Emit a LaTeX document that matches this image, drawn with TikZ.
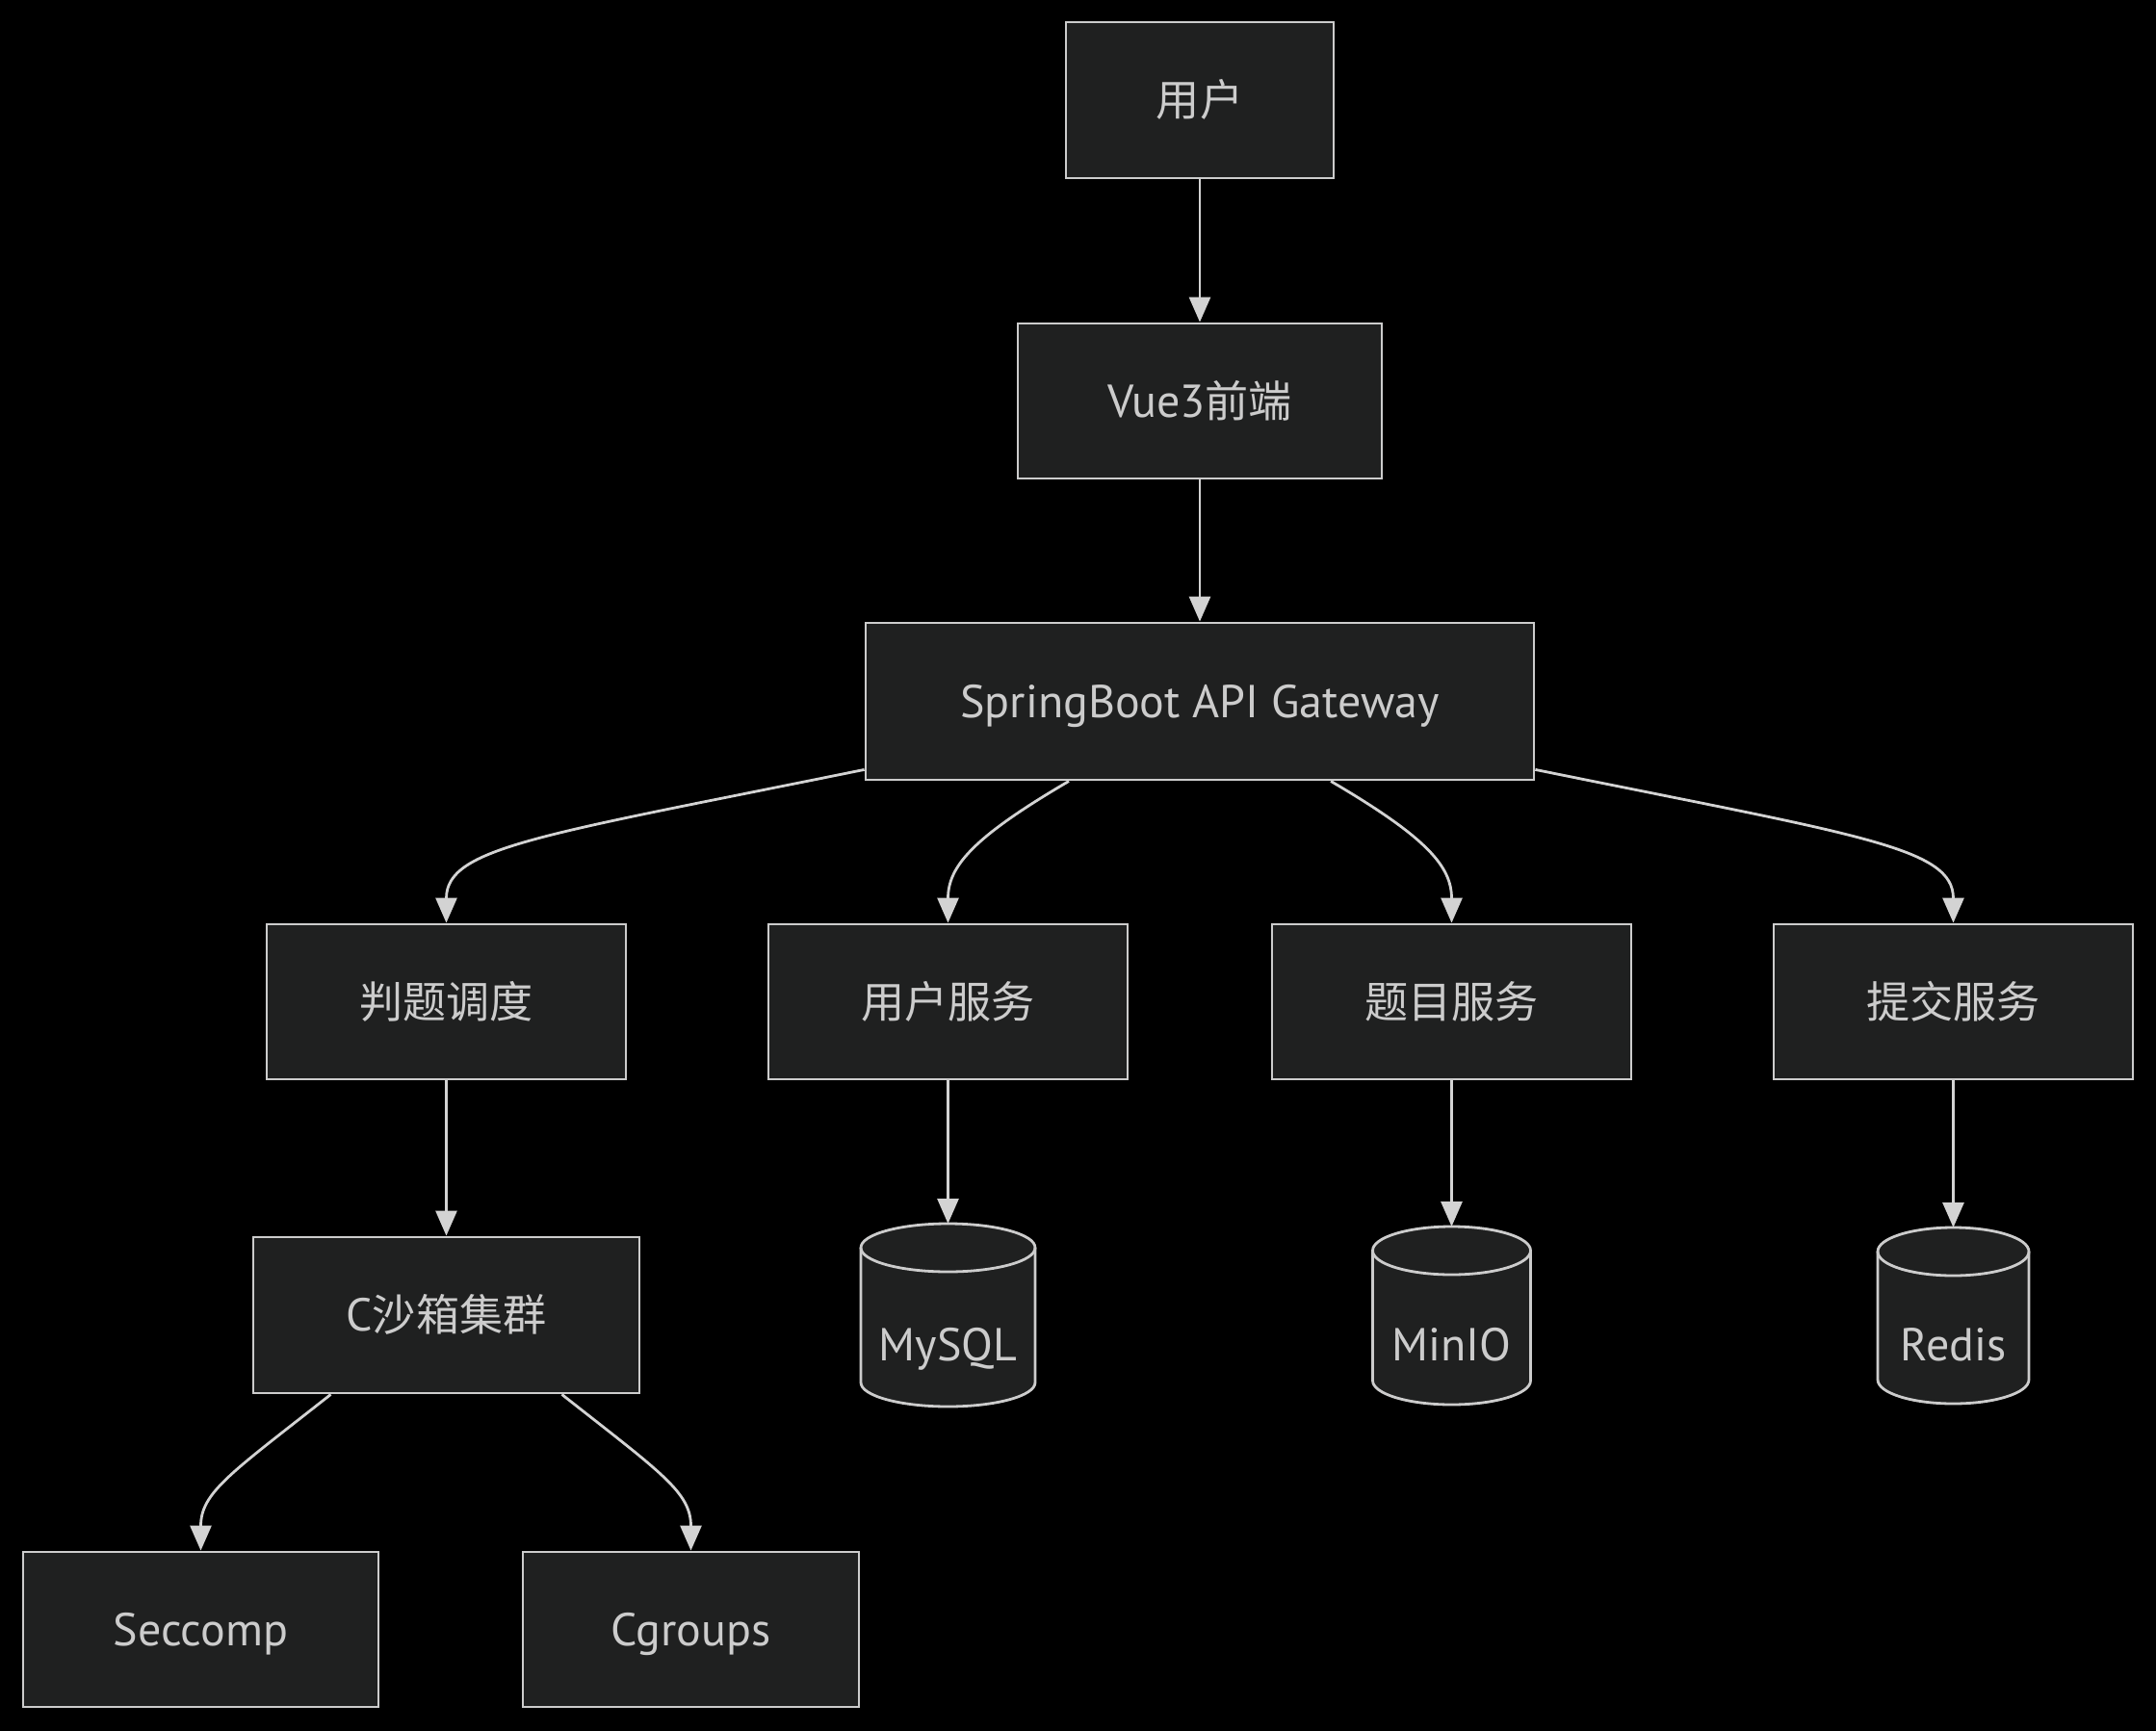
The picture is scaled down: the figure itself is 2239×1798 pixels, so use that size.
\documentclass[tikz,border=0pt]{standalone}
\usepackage{fontspec}
\setmainfont{PT Sans}
\newfontfamily\cjk{Noto Sans CJK SC}[Scale=0.94]
\usetikzlibrary{arrows.meta}
\definecolor{nodefill}{HTML}{1F2020}
\definecolor{nodeline}{HTML}{CCCCCC}
\definecolor{edgecol}{HTML}{D3D3D3}
\definecolor{txtcol}{HTML}{CCCCCC}
\begin{document}
\begin{tikzpicture}[x=0.5pt,y=0.5pt,
  box/.style={draw=nodeline, fill=nodefill, line width=1.4pt, text=txtcol,
    font=\fontsize{24}{28}\selectfont, inner sep=0pt, text height=20pt, text depth=3.2pt},
  dbarea/.style={inner sep=0pt, outer sep=0pt},
  dbshape/.style={draw=nodeline, fill=nodefill, line width=1.4pt},
  dbtext/.style={text=txtcol, font=\fontsize{24}{28}\selectfont, inner sep=0pt, text height=20pt, text depth=3.2pt},
  edge/.style={draw=edgecol, line width=1.4pt, -{Triangle[length=13pt,width=11pt]}}]
\useasboundingbox (0,0) rectangle (2239,-1798);
\fill[black] (0,0) rectangle (2239,-1798);

% boxes
\node[box, minimum width=139pt, minimum height=81pt] (user) at (1246,-104) {\cjk 用户};
\node[box, minimum width=189pt, minimum height=80.5pt] (vue) at (1246,-416.5) {Vue3{\cjk 前端}};
\node[box, minimum width=347pt, minimum height=81.5pt] (gw) at (1246,-728.5) {SpringBoot API Gateway};
\node[box, minimum width=186.5pt, minimum height=80.5pt] (judge) at (463.5,-1040.5) {\cjk 判题调度};
\node[box, minimum width=186.5pt, minimum height=80.5pt] (usvc) at (984.5,-1040.5) {\cjk 用户服务};
\node[box, minimum width=186.5pt, minimum height=80.5pt] (qsvc) at (1507.5,-1040.5) {\cjk 题目服务};
\node[box, minimum width=186.5pt, minimum height=80.5pt] (ssvc) at (2028.5,-1040.5) {\cjk 提交服务};
\node[box, minimum width=200.5pt, minimum height=81pt] (csb) at (463.5,-1366) {C{\cjk 沙箱集群}};
\node[box, minimum width=184.5pt, minimum height=80.5pt] (seccomp) at (208.5,-1692.5) {Seccomp};
\node[box, minimum width=174.5pt, minimum height=80.5pt] (cgroups) at (717.5,-1692.5) {Cgroups};

% cylinders
\node[dbarea, minimum width=90.5pt, minimum height=95pt] (mysql) at (984.5,-1366) {};
\filldraw[dbshape] ([yshift=-12.5pt]mysql.north west) -- ([yshift=12.5pt]mysql.south west)
  arc[start angle=180,end angle=360,x radius=45.25pt,y radius=12.5pt]
  -- ([yshift=-12.5pt]mysql.north east)
  arc[start angle=0,end angle=180,x radius=45.25pt,y radius=12.5pt] -- cycle;
\draw[dbshape, fill=none] ([yshift=-12.5pt]mysql.north west)
  arc[start angle=180,end angle=360,x radius=45.25pt,y radius=12.5pt];
\node[dbtext] (mysqltext) at (984.5,-1397) {MySQL};

\node[dbarea, minimum width=82pt, minimum height=92.5pt] (minio) at (1507.5,-1366.5) {};
\filldraw[dbshape] ([yshift=-12.5pt]minio.north west) -- ([yshift=12.5pt]minio.south west)
  arc[start angle=180,end angle=360,x radius=41pt,y radius=12.5pt]
  -- ([yshift=-12.5pt]minio.north east)
  arc[start angle=0,end angle=180,x radius=41pt,y radius=12.5pt] -- cycle;
\draw[dbshape, fill=none] ([yshift=-12.5pt]minio.north west)
  arc[start angle=180,end angle=360,x radius=41pt,y radius=12.5pt];
\node[dbtext] (miniotext) at (1507.5,-1397) {MinIO};

\node[dbarea, minimum width=78.5pt, minimum height=91.5pt] (redis) at (2028.5,-1366.5) {};
\filldraw[dbshape] ([yshift=-12.5pt]redis.north west) -- ([yshift=12.5pt]redis.south west)
  arc[start angle=180,end angle=360,x radius=39.25pt,y radius=12.5pt]
  -- ([yshift=-12.5pt]redis.north east)
  arc[start angle=0,end angle=180,x radius=39.25pt,y radius=12.5pt] -- cycle;
\draw[dbshape, fill=none] ([yshift=-12.5pt]redis.north west)
  arc[start angle=180,end angle=360,x radius=39.25pt,y radius=12.5pt];
\node[dbtext] (redistext) at (2028.5,-1397) {Redis};

% edges
\draw[edge] (user.south) -- (vue.north);
\draw[edge] (vue.south) -- (gw.north);
\draw[edge] ([yshift=6pt]gw.south west) .. controls (560,-868) and (463.5,-880) .. (judge.north);
\draw[edge] ([xshift=-68pt]gw.south) .. controls (1010,-870) and (984.5,-900) .. (usvc.north);
\draw[edge] ([xshift=68pt]gw.south) .. controls (1482,-870) and (1507.5,-900) .. (qsvc.north);
\draw[edge] ([yshift=6pt]gw.south east) .. controls (1932,-868) and (2028.5,-880) .. (ssvc.north);
\draw[edge] (judge.south) -- (csb.north);
\draw[edge] (usvc.south) -- (mysql.north);
\draw[edge] (qsvc.south) -- (minio.north);
\draw[edge] (ssvc.south) -- (redis.north);
\draw[edge] ([xshift=-60pt]csb.south) .. controls (240,-1530) and (208.5,-1550) .. (seccomp.north);
\draw[edge] ([xshift=60pt]csb.south) .. controls (687,-1530) and (717.5,-1550) .. (cgroups.north);
\end{tikzpicture}
\end{document}
